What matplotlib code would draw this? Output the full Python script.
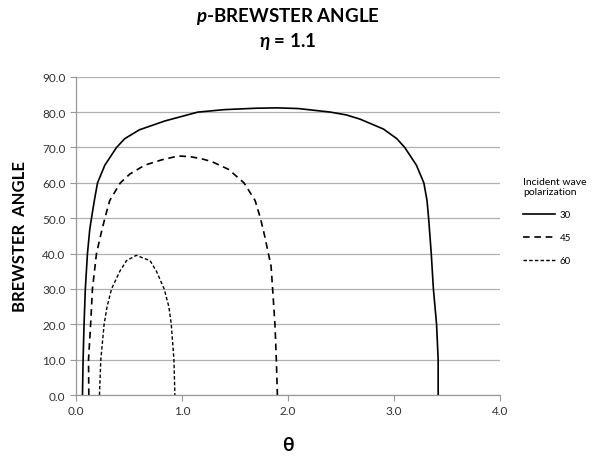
import matplotlib
matplotlib.use('Agg')
from matplotlib import pyplot as plt

# values
theta_30 = [0.063, 0.069, 0.078, 0.09, 0.11, 0.132, 0.148, 0.175, 0.205, 0.274, 0.384, 0.462, 0.60,
            0.84, 1.15, 1.40, 1.70, 1.90, 2.10, 2.25, 2.40, 2.55, 2.68, 2.90, 3.025, 3.10, 3.21,
            3.28, 3.31, 3.325, 3.35, 3.37, 3.40, 3.415, 3.415]
angle_30 = [0, 10, 20, 30, 40, 46.9, 50, 55, 60, 65, 70, 72.5, 75,
            77.5, 80, 80.7, 81.1, 81.2, 81, 80.5, 80, 79.2, 78, 75.2, 72.5, 70, 65,
            60, 55, 50, 40, 30, 20, 10, 0]

theta_45 = [0.123, 0.12, 0.14, 0.157, 0.195, 0.233, 0.274, 0.32, 0.42, 0.51, 0.65, 0.81, 0.965,
            1.08, 1.20, 1.29, 1.44, 1.585, 1.69, 1.74, 1.78, 1.815, 1.84, 1.855, 1.877, 1.89, 1.90]
angle_45 = [0, 10, 20, 30, 40, 45, 50, 55, 60, 62.5, 65, 66.5, 67.6,
            67.4, 66.7, 65.9, 63.8, 60, 55, 50, 45, 40, 36.5, 30, 20, 10, 0]

theta_60 = [0.223, 0.236, 0.267, 0.295, 0.337, 0.415, 0.478, 0.57, 0.70, 0.76, 0.833, 0.877,
            0.90, 0.925, 0.934]
angle_60 = [0, 10, 20, 25, 30, 35, 38, 39.5, 38, 35, 30, 25,
            20, 10, 0]

series_labels = ['30', '45', '60']
x_ticks = [0.0, 1.0, 2.0, 3.0, 4.0]
y_ticks = [0, 10, 20, 30, 40, 50, 60, 70, 80, 90]

plt.rcParams['font.family'] = ['Lato', 'DejaVu Sans']
plt.rcParams['mathtext.fontset'] = 'custom'
plt.rcParams['mathtext.it'] = 'Lato:bold:italic'
plt.rcParams['mathtext.rm'] = 'Lato:bold'

fig = plt.figure(figsize=(5.92, 4.6), dpi=100)
ax = fig.add_axes([0.128, 0.139, 0.717, 0.692])

ax.plot(theta_30, angle_30, color='black', lw=1.2, label=series_labels[0])
ax.plot(theta_45, angle_45, color='black', lw=1.2, linestyle=(0, (4, 2.8)), label=series_labels[1])
ax.plot(theta_60, angle_60, color='black', lw=1.0, linestyle=(0, (2.5, 1.6)), label=series_labels[2])

ax.set_xlim(0, 4)
ax.set_ylim(0, 90)
ax.set_xticks(x_ticks)
ax.set_xticklabels(['%.1f' % v for v in x_ticks])
ax.set_yticks(y_ticks)
ax.set_yticklabels(['%.1f' % v for v in y_ticks])
ax.tick_params(labelsize=8.5, colors='#333333', length=4, width=0.8)
ax.tick_params(axis='both', color='#999999')
ax.yaxis.grid(True, color='#b0b0b0', lw=0.9)
ax.set_axisbelow(True)
for side in ['top', 'right']:
    ax.spines[side].set_visible(False)
for side in ['left', 'bottom']:
    ax.spines[side].set_color('#999999')
    ax.spines[side].set_linewidth(0.9)

ax.set_title('$p$-BREWSTER ANGLE\n$\\eta$ = 1.1', fontsize=13.5, fontweight='bold', pad=22,
             linespacing=1.25)
ax.set_ylabel('BREWSTER  ANGLE', fontsize=12, fontweight='bold', labelpad=10)
ax.set_xlabel('θ', fontsize=14, fontweight='bold', labelpad=14)

leg = ax.legend(loc='upper left', bbox_to_anchor=(1.034, 0.714), frameon=False,
                title='Incident wave\npolarization', fontsize=7, title_fontsize=7.5,
                handlelength=3.2, labelspacing=1.45, handletextpad=0.5)
leg._legend_box.align = 'left'

fig.savefig('out.png', dpi=100)
